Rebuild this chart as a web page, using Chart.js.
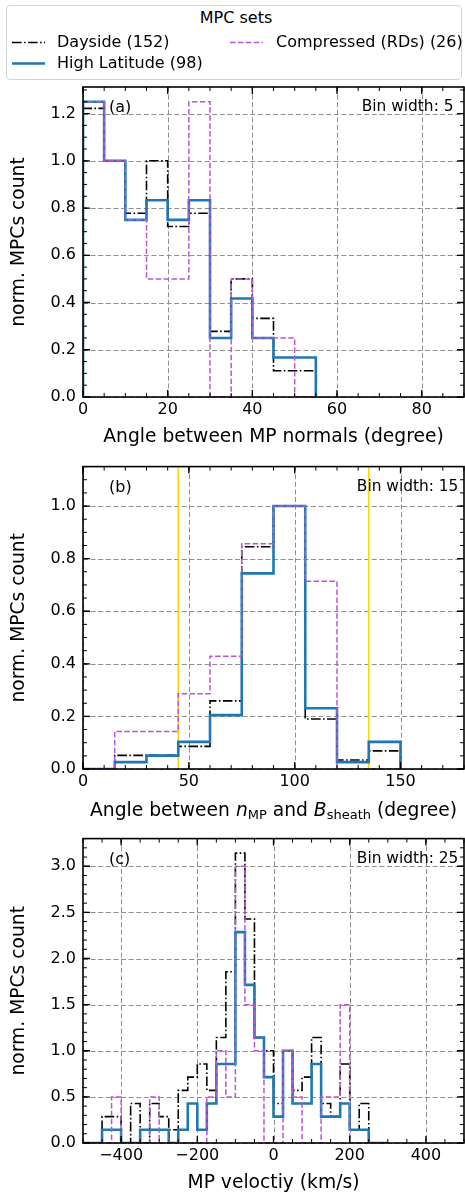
<!DOCTYPE html>
<html><head><meta charset="utf-8">
<script src="https://cdn.jsdelivr.net/npm/chart.js@4.4.1/dist/chart.umd.min.js"></script>
<style>
html,body{margin:0;padding:0;background:#fff;}
body{width:465px;height:1193px;position:relative;overflow:hidden;font-family:"DejaVu Sans",sans-serif;}
canvas{position:absolute;left:0;}
#legend{position:absolute;left:6px;top:5px;width:456px;height:75px;border:1px solid #d4d4d4;border-radius:4px;background:#fff;box-sizing:border-box;}
.lt{position:absolute;font-size:16px;line-height:16px;white-space:nowrap;color:#000;}
#lsvg{position:absolute;left:0;top:0;}
</style></head>
<body>
<canvas id="ca" width="465" height="450" style="top:0"></canvas>
<canvas id="cb" width="465" height="372" style="top:450px"></canvas>
<canvas id="cc" width="465" height="371" style="top:822px"></canvas>
<div id="legend"></div>
<svg id="lsvg" width="465" height="90">
  <line x1="12" y1="42.5" x2="45" y2="42.5" stroke="#000" stroke-width="1.6" stroke-dasharray="9.6,2.4,1.6,2.4"/>
  <line x1="12" y1="63.5" x2="45" y2="63.5" stroke="#1f77b4" stroke-width="2.6"/>
  <line x1="230" y1="42.5" x2="263" y2="42.5" stroke="#ba55d3" stroke-width="1.5" stroke-dasharray="5.5,2.4"/>
</svg>
<div class="lt" style="left:136px;width:200px;text-align:center;top:10px;">MPC sets</div>
<div class="lt" style="left:57px;top:34px;">Dayside (152)</div>
<div class="lt" style="left:57px;top:55px;">High Latitude (98)</div>
<div class="lt" style="left:276px;top:34px;">Compressed (RDs) (26)</div>
<script>
// ---------- DATA ----------
// Panel (a): angle between MP normals, bins of 5 starting at 0
const binStartA = 0, binWidthA = 5;
const daysideA    = [1.222, 1.0, 0.778, 1.0, 0.722, 0.778, 0.278, 0.5, 0.333, 0.111, 0.111];
const highLatA    = [1.25, 1.0, 0.75, 0.833, 0.75, 0.833, 0.25, 0.417, 0.25, 0.167, 0.167];
const compressedA = [1.25, 1.0, 0.75, 0.5, 0.5, 1.25, 0, 0.5, 0.25, 0.25, 0];
const xTicksA = [0, 20, 40, 60, 80];
const yTicksA = [0, 0.2, 0.4, 0.6, 0.8, 1.0, 1.2];

// Panel (b): angle between n_MP and B_sheath, bins of 15 starting at 0
const binStartB = 0, binWidthB = 15;
const daysideB    = [0, 0.052, 0.052, 0.086, 0.259, 0.845, 1.0, 0.19, 0.034, 0.069];
const highLatB    = [0, 0.026, 0.051, 0.103, 0.205, 0.744, 1.0, 0.231, 0.026, 0.103];
const compressedB = [0, 0.143, 0.143, 0.286, 0.429, 0.857, 1.0, 0.714, 0, 0];
const vLinesB = [45, 135];
const xTicksB = [0, 50, 100, 150];
const yTicksB = [0, 0.2, 0.4, 0.6, 0.8, 1.0];

// Panel (c): MP velocity, bins of 25 starting at -500
const binStartC = -500, binWidthC = 25;
const daysideC    = [0, 0, 0.286, 0.286, 0, 0.429, 0, 0.429, 0.286, 0.143, 0.571, 0.714, 0.857, 0.571, 1.143, 1.857,
                     3.143, 2.429, 1.143, 1.0, 0.429, 1.0, 0.571, 0.714, 1.143, 0.429, 0.286, 0.857, 0.143, 0.429, 0, 0];
const highLatC    = [0, 0, 0.143, 0.143, 0, 0, 0.143, 0.143, 0.143, 0, 0.143, 0.429, 0.143, 0.429, 0.857, 0.857,
                     2.286, 1.714, 1.143, 0.714, 0.286, 1.0, 0.429, 0.429, 0.857, 0.286, 0.286, 0.429, 0.143, 0.143, 0, 0];
const compressedC = [0, 0, 0, 0.5, 0, 0, 0, 0.5, 0, 0, 0, 0, 0, 0.5, 1.0, 0.5,
                     3.0, 1.5, 1.0, 0, 0, 1.0, 0.5, 0, 0, 0.5, 0.5, 1.5, 0, 0, 0, 0];
const xTicksC = [-400, -200, 0, 200, 400];
const xTickLabelsC = ['\u2212400', '\u2212200', '0', '200', '400'];
const yTicksC = [0, 0.5, 1.0, 1.5, 2.0, 2.5, 3.0];

// ---------- HELPERS ----------
const FONT = '"DejaVu Sans", sans-serif';
function stepPoints(start, width, vals) {
  const pts = [{x: start, y: 0}];
  vals.forEach((v, i) => pts.push({x: start + i * width, y: v}));
  pts.push({x: start + vals.length * width, y: 0});
  return pts;
}
function histDataset(label, start, width, vals, style) {
  return Object.assign({
    label, data: stepPoints(start, width, vals), stepped: true, pointRadius: 0,
    fill: false, tension: 0, borderJoinStyle: 'miter', borderCapStyle: 'butt'
  }, style);
}
const styleDay  = {borderColor: '#000000', borderWidth: 1.6, borderDash: [9.6, 2.4, 1.6, 2.4], order: 3};
const styleHigh = {borderColor: '#1f77b4', borderWidth: 2.6, order: 2};
const styleComp = {borderColor: '#ba55d3', borderWidth: 1.5, borderDash: [5.5, 2.4], order: 1};

function drawRich(ctx, segs, cx, cy) {
  let total = 0;
  segs.forEach(s => { ctx.font = s.f; s.w = ctx.measureText(s.t).width; total += s.w; });
  let x = cx - total / 2;
  ctx.textAlign = 'left';
  ctx.textBaseline = 'alphabetic';
  segs.forEach(s => { ctx.font = s.f; ctx.fillText(s.t, x, cy + (s.dy || 0)); x += s.w; });
}

function framePlugin(p) {
  return {
    id: 'frame' + p.letter,
    beforeDatasetsDraw(chart) {
      const {ctx, chartArea: a, scales: {x, y}} = chart;
      ctx.save();
      ctx.strokeStyle = '#8f8f8f'; ctx.lineWidth = 1; ctx.setLineDash([5, 2.6]);
      p.xTicks.forEach(v => { const px = Math.round(x.getPixelForValue(v)) + 0.5; ctx.beginPath(); ctx.moveTo(px, a.top); ctx.lineTo(px, a.bottom); ctx.stroke(); });
      p.yTicks.forEach(v => { const py = Math.round(y.getPixelForValue(v)) + 0.5; ctx.beginPath(); ctx.moveTo(a.left, py); ctx.lineTo(a.right, py); ctx.stroke(); });
      ctx.restore();
    },
    afterDraw(chart) {
      const {ctx, chartArea: a, scales: {x, y}} = chart;
      ctx.save();
      ctx.setLineDash([]);
      ctx.strokeStyle = '#000';
      // inward ticks
      const tick = (v, axis, len, w) => {
        ctx.lineWidth = w;
        ctx.beginPath();
        if (axis === 'x') {
          const px = x.getPixelForValue(v);
          if (px < a.left - 0.5 || px > a.right + 0.5) return;
          ctx.moveTo(px, a.bottom); ctx.lineTo(px, a.bottom - len);
          ctx.moveTo(px, a.top); ctx.lineTo(px, a.top + len);
        } else {
          const py = y.getPixelForValue(v);
          if (py < a.top - 0.5 || py > a.bottom + 0.5) return;
          ctx.moveTo(a.left, py); ctx.lineTo(a.left + len, py);
          ctx.moveTo(a.right, py); ctx.lineTo(a.right - len, py);
        }
        ctx.stroke();
      };
      for (let v = x.min; v <= x.max + 1e-9; v += p.xMinor) tick(v, 'x', 4, 1);
      for (let v = y.min; v <= y.max + 1e-9; v += p.yMinor) tick(v, 'y', 4, 1);
      p.xTicks.forEach(v => tick(v, 'x', 7, 1.3));
      p.yTicks.forEach(v => tick(v, 'y', 7, 1.3));
      // spines
      ctx.lineWidth = 1.6;
      ctx.strokeRect(a.left, a.top, a.right - a.left, a.bottom - a.top);
      // texts
      ctx.fillStyle = '#000';
      ctx.textBaseline = 'middle';
      ctx.textAlign = 'left';
      ctx.font = '16px ' + FONT;
      ctx.fillText(p.letter, a.left + 26, a.top + 21);
      ctx.textAlign = 'center';
      ctx.font = '15.4px ' + FONT;
      ctx.fillText(p.bin, a.left + 0.852 * (a.right - a.left), a.top + 20);
      // x title
      const cx = (a.left + a.right) / 2;
      if (p.xTitleRich) {
        drawRich(ctx, p.xTitleRich, cx, a.bottom + 46.5);
      } else {
        ctx.textAlign = 'center'; ctx.textBaseline = 'middle';
        ctx.font = '18.7px ' + FONT;
        ctx.fillText(p.xTitle, cx, a.bottom + 40);
      }
      // y title
      ctx.save();
      ctx.translate(19, (a.top + a.bottom) / 2);
      ctx.rotate(-Math.PI / 2);
      ctx.textAlign = 'center'; ctx.textBaseline = 'middle';
      ctx.font = '18.7px ' + FONT;
      ctx.fillText('norm. MPCs count', 0, 0);
      ctx.restore();
      ctx.restore();
    }
  };
}

function makeChart(id, p) {
  const xLabels = p.xLabels || p.xTicks.map(v => String(v));
  return new Chart(document.getElementById(id), {
    type: 'line',
    data: {datasets: p.datasets},
    options: {
      responsive: false, animation: false, devicePixelRatio: 1,
      layout: {padding: {top: p.top, left: 0, right: 1, bottom: 0}},
      plugins: {legend: {display: false}, tooltip: {enabled: false}},
      scales: {
        x: {
          type: 'linear', min: p.xMin, max: p.xMax,
          grid: {display: false, drawTicks: false}, border: {display: false},
          ticks: {font: {family: FONT, size: 16}, color: '#000', padding: 3, autoSkip: false, maxRotation: 0,
                  callback: (v, i) => xLabels[i]},
          afterBuildTicks: s => { s.ticks = p.xTicks.map(v => ({value: v})); },
          afterFit: s => { s.height = p.xH; }
        },
        y: {
          type: 'linear', min: 0, max: p.yMax,
          grid: {display: false, drawTicks: false}, border: {display: false},
          ticks: {font: {family: FONT, size: 16}, color: '#000', padding: 7, autoSkip: false,
                  callback: (v, i) => p.yLabels[i]},
          afterBuildTicks: s => { s.ticks = p.yTicks.map(v => ({value: v})); },
          afterFit: s => { s.width = 83; }
        }
      }
    },
    plugins: [framePlugin(p)]
  });
}

const f1 = v => v.toFixed(1);

makeChart('ca', {
  letter: '(a)', bin: 'Bin width: 5', top: 87, xH: 53,
  xMin: 0, xMax: 90, yMax: 1.3125, xMinor: 5, yMinor: 0.05,
  xTicks: xTicksA, yTicks: yTicksA, yLabels: yTicksA.map(f1),
  xTitle: 'Angle between MP normals (degree)',
  datasets: [
    histDataset('Dayside (152)', binStartA, binWidthA, daysideA, styleDay),
    histDataset('High Latitude (98)', binStartA, binWidthA, highLatA, styleHigh),
    histDataset('Compressed (RDs) (26)', binStartA, binWidthA, compressedA, styleComp)
  ]
});

const N = '18.7px ' + FONT, I = 'italic 18.7px ' + FONT, S = '13px ' + FONT;
makeChart('cb', {
  letter: '(b)', bin: 'Bin width: 15', top: 11, xH: 53,
  xMin: 0, xMax: 180, yMax: 1.15, xMinor: 10, yMinor: 0.05,
  xTicks: xTicksB, yTicks: yTicksB, yLabels: yTicksB.map(f1),
  xTitleRich: [{t: 'Angle between ', f: N}, {t: 'n', f: I}, {t: 'MP', f: S, dy: 3.5},
               {t: ' and ', f: N}, {t: 'B', f: I}, {t: 'sheath', f: S, dy: 3.5}, {t: ' (degree)', f: N}],
  datasets: [
    ...vLinesB.map(v => ({data: [{x: v, y: 0}, {x: v, y: 1.15}], borderColor: '#ffd700', borderWidth: 1.6,
                          pointRadius: 0, fill: false, order: 4})),
    histDataset('Dayside (152)', binStartB, binWidthB, daysideB, styleDay),
    histDataset('High Latitude (98)', binStartB, binWidthB, highLatB, styleHigh),
    histDataset('Compressed (RDs) (26)', binStartB, binWidthB, compressedB, styleComp)
  ]
});

makeChart('cc', {
  letter: '(c)', bin: 'Bin width: 25', top: 11, xH: 50,
  xMin: -500, xMax: 500, yMax: 3.3, xMinor: 50, yMinor: 0.1,
  xTicks: xTicksC, xLabels: xTickLabelsC, yTicks: yTicksC, yLabels: yTicksC.map(f1),
  xTitle: 'MP veloctiy (km/s)',
  datasets: [
    histDataset('Dayside (152)', binStartC, binWidthC, daysideC, styleDay),
    histDataset('High Latitude (98)', binStartC, binWidthC, highLatC, styleHigh),
    histDataset('Compressed (RDs) (26)', binStartC, binWidthC, compressedC, styleComp)
  ]
});
</script>
</body></html>
